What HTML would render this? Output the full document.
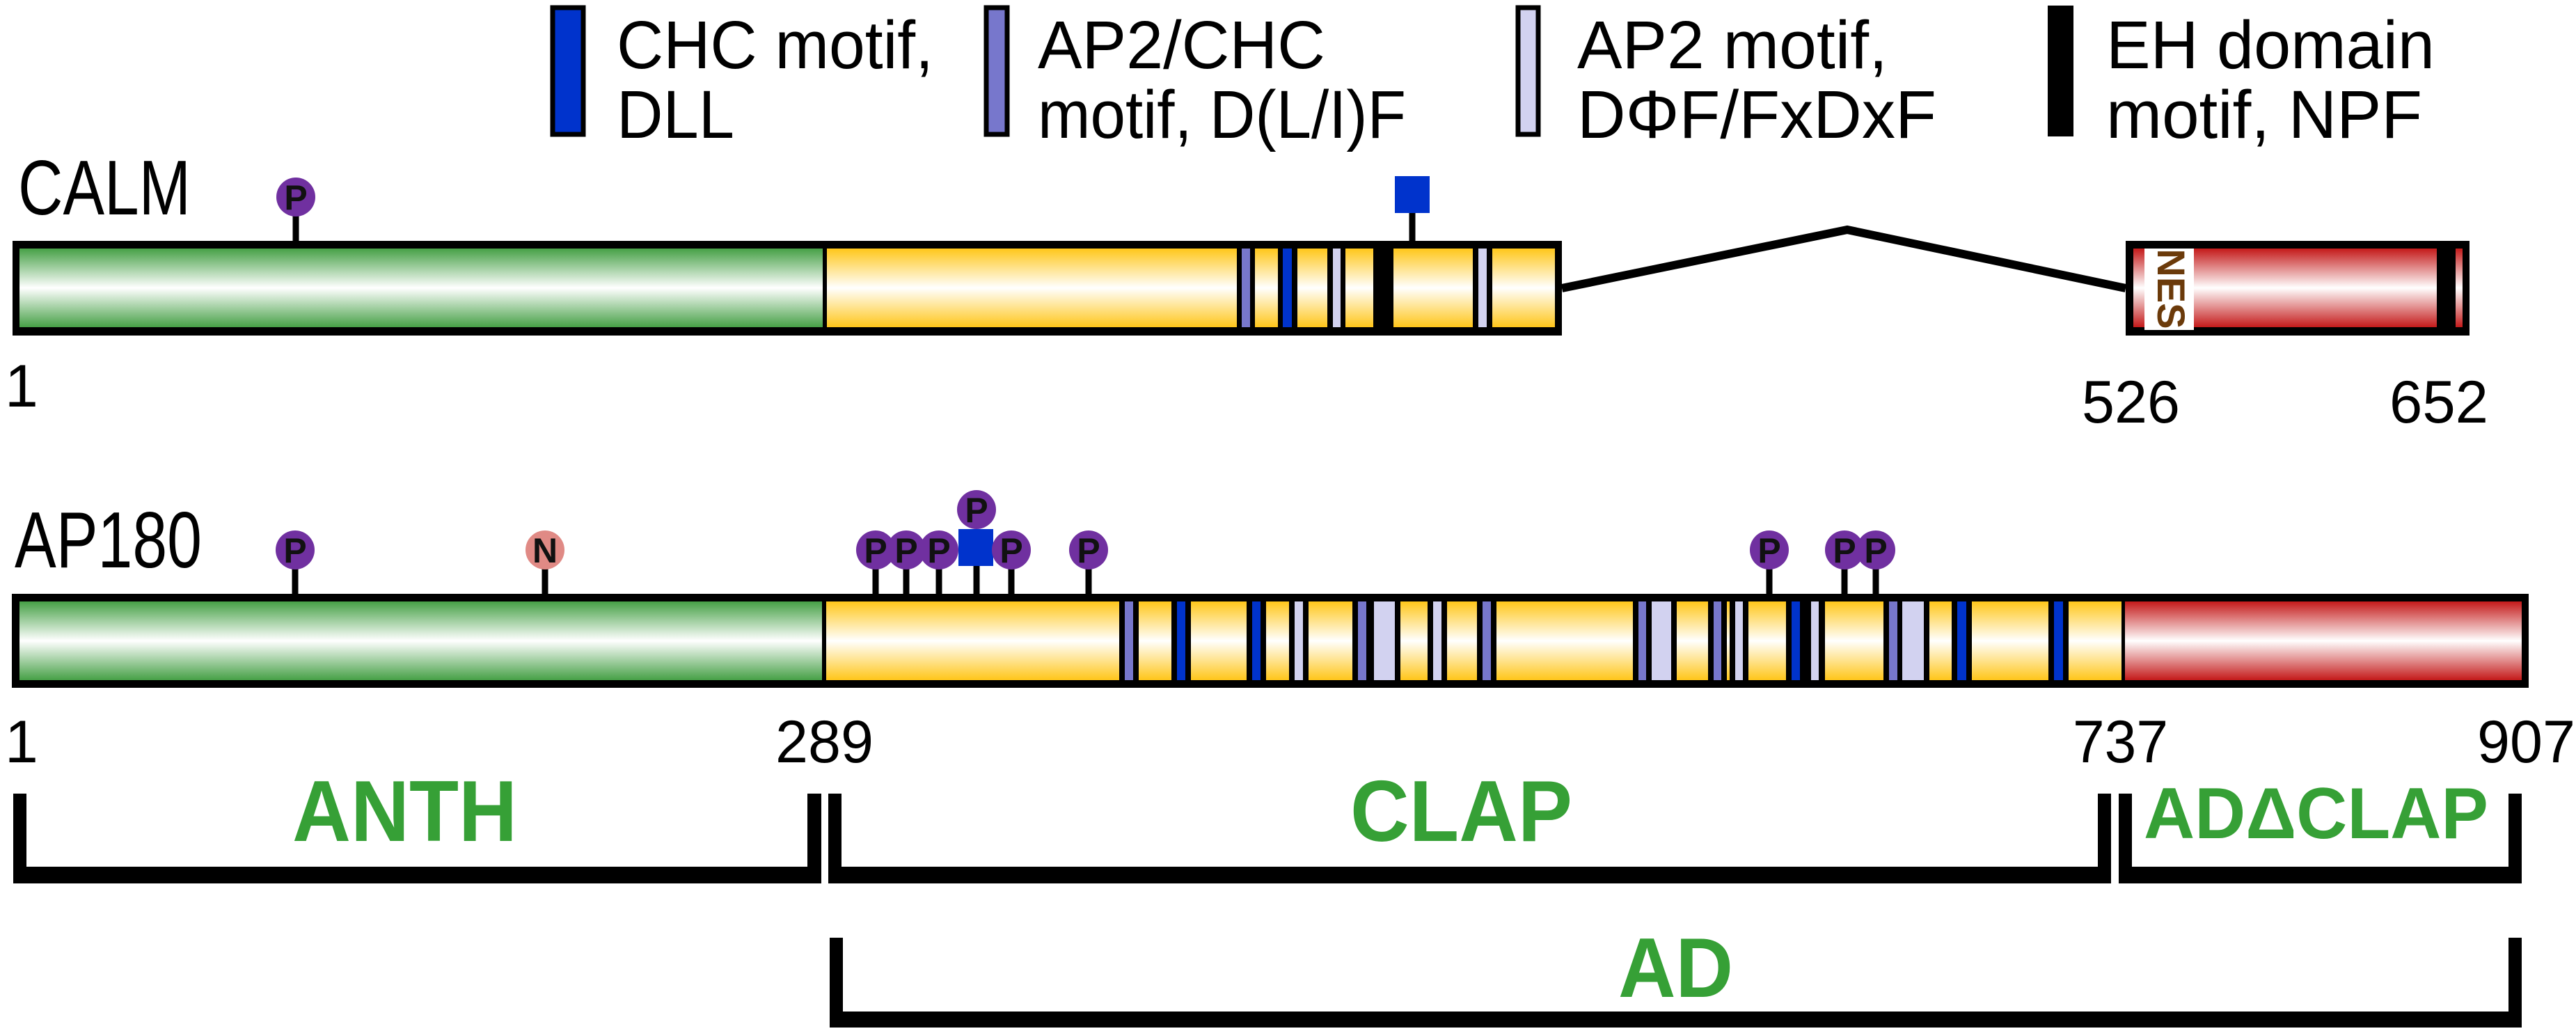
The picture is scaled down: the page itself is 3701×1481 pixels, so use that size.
<!DOCTYPE html>
<html><head><meta charset="utf-8"><style>html,body{margin:0;padding:0;background:#fff}svg{display:block}</style></head>
<body>
<svg xmlns="http://www.w3.org/2000/svg" width="3701" height="1481" viewBox="0 0 3701 1481" font-family="Liberation Sans, Arial, sans-serif">
<defs>
<linearGradient id="g" x1="0" y1="0" x2="0" y2="1"><stop offset="0" stop-color="#46a046"/><stop offset="0.5" stop-color="#ffffff"/><stop offset="1" stop-color="#46a046"/></linearGradient>
<linearGradient id="y" x1="0" y1="0" x2="0" y2="1"><stop offset="0" stop-color="#ffc61a"/><stop offset="0.5" stop-color="#ffffff"/><stop offset="1" stop-color="#ffc61a"/></linearGradient>
<linearGradient id="r" x1="0" y1="0" x2="0" y2="1"><stop offset="0" stop-color="#c41a1a"/><stop offset="0.5" stop-color="#ffffff"/><stop offset="1" stop-color="#c41a1a"/></linearGradient>
</defs>

<!-- Legend -->
<rect x="794" y="11" width="44" height="182" fill="#0033cc" stroke="#000" stroke-width="7"/>
<text x="886" y="98" font-size="97" textLength="455" lengthAdjust="spacingAndGlyphs">CHC motif,</text>
<text x="886" y="198" font-size="97" textLength="169" lengthAdjust="spacingAndGlyphs">DLL</text>
<rect x="1417" y="11" width="30" height="182" fill="#7777cc" stroke="#000" stroke-width="7"/>
<text x="1491" y="98" font-size="97" textLength="413" lengthAdjust="spacingAndGlyphs">AP2/CHC</text>
<text x="1491" y="198" font-size="97" textLength="529" lengthAdjust="spacingAndGlyphs">motif, D(L/I)F</text>
<rect x="2181" y="11" width="29" height="182" fill="#d2d2f0" stroke="#000" stroke-width="7"/>
<text x="2266" y="98" font-size="97" textLength="446" lengthAdjust="spacingAndGlyphs">AP2 motif,</text>
<text x="2266" y="198" font-size="97" textLength="516" lengthAdjust="spacingAndGlyphs">DΦF/FxDxF</text>
<rect x="2942" y="8" width="37" height="188" fill="#000"/>
<text x="3026" y="98" font-size="97" textLength="472" lengthAdjust="spacingAndGlyphs">EH domain</text>
<text x="3026" y="198" font-size="97" textLength="454" lengthAdjust="spacingAndGlyphs">motif, NPF</text>

<!-- CALM -->
<text x="26" y="308" font-size="111" textLength="248" lengthAdjust="spacingAndGlyphs">CALM</text>
<polyline points="2244,414 2654,330 3054,414" fill="none" stroke="#000" stroke-width="12"/>
<rect x="18" y="346" width="2226" height="136" fill="#000"/>
<rect x="28" y="357" width="1154" height="113" fill="url(#g)"/>
<rect x="1188" y="357" width="1046" height="113" fill="url(#y)"/>
<g>
<rect x="1777" y="357" width="26" height="113" fill="#000"/><rect x="1784" y="357" width="12" height="113" fill="#7777cc"/>
<rect x="1836" y="357" width="28" height="113" fill="#000"/><rect x="1843" y="357" width="13" height="113" fill="#0033cc"/>
<rect x="1907" y="357" width="26" height="113" fill="#000"/><rect x="1915" y="357" width="11" height="113" fill="#d2d2f0"/>
<rect x="1973" y="357" width="29" height="113" fill="#000"/>
<rect x="2116" y="357" width="28" height="113" fill="#000"/><rect x="2124" y="357" width="12" height="113" fill="#d2d2f0"/>
</g>
<rect x="3054" y="346" width="494" height="136" fill="#000"/>
<rect x="3065" y="357" width="436" height="113" fill="url(#r)"/>
<rect x="3528" y="357" width="10" height="113" fill="url(#r)"/>
<rect x="3081" y="357" width="71" height="117" fill="#fff"/>
<text transform="translate(3100,415) rotate(90)" font-size="56" font-weight="bold" fill="#6b3a0a" text-anchor="middle">NES</text>
<!-- CALM markers -->
<line x1="425" y1="300" x2="425" y2="346" stroke="#000" stroke-width="9"/>
<circle cx="425" cy="283" r="28" fill="#7030a0"/>
<text x="425" y="301" font-size="50" font-weight="bold" text-anchor="middle" fill="#111">P</text>
<line x1="2029" y1="300" x2="2029" y2="346" stroke="#000" stroke-width="9"/>
<rect x="2004" y="253" width="50" height="53" fill="#0033cc"/>
<text x="7" y="584" font-size="86">1</text>
<text x="2991" y="607" font-size="86" textLength="141" lengthAdjust="spacingAndGlyphs">526</text>
<text x="3433" y="607" font-size="86" textLength="142" lengthAdjust="spacingAndGlyphs">652</text>

<!-- AP180 -->
<text x="21" y="815" font-size="114" textLength="269" lengthAdjust="spacingAndGlyphs">AP180</text>
<rect x="17" y="853" width="3616" height="135" fill="#000"/>
<rect x="28" y="864" width="1153" height="113" fill="url(#g)"/>
<rect x="1187" y="864" width="1861" height="113" fill="url(#y)"/>
<rect x="3053" y="864" width="570" height="113" fill="url(#r)"/>
<g>
<rect x="1608" y="864" width="28" height="113" fill="#000"/><rect x="1616" y="864" width="12" height="113" fill="#7777cc"/>
<rect x="1683" y="864" width="28" height="113" fill="#000"/><rect x="1691" y="864" width="12" height="113" fill="#0033cc"/>
<rect x="1791" y="864" width="28" height="113" fill="#000"/><rect x="1799" y="864" width="12" height="113" fill="#0033cc"/>
<rect x="1852" y="864" width="28" height="113" fill="#000"/><rect x="1860" y="864" width="12" height="113" fill="#d2d2f0"/>
<rect x="1943" y="864" width="28" height="113" fill="#000"/><rect x="1951" y="864" width="12" height="113" fill="#7777cc"/>
<rect x="1966" y="864" width="46" height="113" fill="#000"/><rect x="1974" y="864" width="30" height="113" fill="#d2d2f0"/>
<rect x="2051" y="864" width="28" height="113" fill="#000"/><rect x="2059" y="864" width="12" height="113" fill="#d2d2f0"/>
<rect x="2122" y="864" width="28" height="113" fill="#000"/><rect x="2130" y="864" width="12" height="113" fill="#7777cc"/>
<rect x="2346" y="864" width="63" height="113" fill="#000"/><rect x="2354" y="864" width="11" height="113" fill="#7777cc"/><rect x="2373" y="864" width="28" height="113" fill="#d2d2f0"/>
<rect x="2454" y="864" width="27" height="113" fill="#000"/><rect x="2462" y="864" width="11" height="113" fill="#7777cc"/>
<rect x="2485" y="864" width="27" height="113" fill="#000"/><rect x="2493" y="864" width="11" height="113" fill="#d2d2f0"/>
<rect x="2566" y="864" width="56" height="113" fill="#000"/><rect x="2574" y="864" width="12" height="113" fill="#0033cc"/><rect x="2602" y="864" width="11" height="113" fill="#d2d2f0"/>
<rect x="2706" y="864" width="66" height="113" fill="#000"/><rect x="2714" y="864" width="12" height="113" fill="#7777cc"/><rect x="2733" y="864" width="31" height="113" fill="#d2d2f0"/>
<rect x="2804" y="864" width="29" height="113" fill="#000"/><rect x="2812" y="864" width="13" height="113" fill="#0033cc"/>
<rect x="2943" y="864" width="29" height="113" fill="#000"/><rect x="2951" y="864" width="13" height="113" fill="#0033cc"/>
</g>
<!-- AP180 markers -->
<g stroke="#000" stroke-width="9">
<line x1="424" y1="805" x2="424" y2="853"/><line x1="783" y1="805" x2="783" y2="853"/>
<line x1="1258" y1="805" x2="1258" y2="853"/><line x1="1302" y1="805" x2="1302" y2="853"/><line x1="1349" y1="805" x2="1349" y2="853"/>
<line x1="1403" y1="805" x2="1403" y2="853"/><line x1="1453" y1="805" x2="1453" y2="853"/><line x1="1564" y1="805" x2="1564" y2="853"/>
<line x1="2542" y1="805" x2="2542" y2="853"/><line x1="2650" y1="805" x2="2650" y2="853"/><line x1="2695" y1="805" x2="2695" y2="853"/>
</g>
<g font-size="50" font-weight="bold" text-anchor="middle" fill="#111">
<circle cx="424" cy="790" r="28" fill="#7030a0"/><text x="424" y="808">P</text>
<circle cx="783" cy="790" r="28" fill="#e08a85"/><text x="783" y="808">N</text>
<circle cx="1258" cy="790" r="28" fill="#7030a0"/><text x="1258" y="808">P</text>
<circle cx="1302" cy="790" r="28" fill="#7030a0"/><text x="1302" y="808">P</text>
<circle cx="1349" cy="790" r="28" fill="#7030a0"/><text x="1349" y="808">P</text>
<circle cx="1403" cy="732" r="28" fill="#7030a0"/><text x="1403" y="750">P</text>
<rect x="1377" y="760" width="50" height="53" fill="#0033cc"/>
<circle cx="1453" cy="790" r="28" fill="#7030a0"/><text x="1453" y="808">P</text>
<circle cx="1564" cy="790" r="28" fill="#7030a0"/><text x="1564" y="808">P</text>
<circle cx="2542" cy="790" r="28" fill="#7030a0"/><text x="2542" y="808">P</text>
<circle cx="2650" cy="790" r="28" fill="#7030a0"/><text x="2650" y="808">P</text>
<circle cx="2695" cy="790" r="28" fill="#7030a0"/><text x="2695" y="808">P</text>
</g>
<g font-size="86">
<text x="7" y="1095">1</text>
<text x="1114" y="1095" textLength="141" lengthAdjust="spacingAndGlyphs">289</text>
<text x="2978" y="1095" textLength="137" lengthAdjust="spacingAndGlyphs">737</text>
<text x="3559" y="1095" textLength="141" lengthAdjust="spacingAndGlyphs">907</text>
</g>

<!-- Brackets -->
<g fill="#000">
<rect x="19" y="1140" width="19" height="129"/><rect x="19" y="1245" width="1161" height="24"/><rect x="1160" y="1140" width="20" height="129"/>
<rect x="1190" y="1140" width="19" height="129"/><rect x="1190" y="1245" width="1843" height="24"/><rect x="3014" y="1140" width="19" height="129"/>
<rect x="3044" y="1140" width="19" height="129"/><rect x="3044" y="1245" width="579" height="24"/><rect x="3604" y="1140" width="19" height="129"/>
<rect x="1192" y="1347" width="19" height="129"/><rect x="1192" y="1453" width="2431" height="23"/><rect x="3604" y="1347" width="19" height="129"/>
</g>
<g fill="#36a036" font-weight="bold">
<text x="420" y="1208" font-size="124" textLength="323" lengthAdjust="spacingAndGlyphs">ANTH</text>
<text x="1940" y="1208" font-size="124" textLength="319" lengthAdjust="spacingAndGlyphs">CLAP</text>
<text x="3080" y="1204" font-size="104" textLength="495" lengthAdjust="spacingAndGlyphs">ADΔCLAP</text>
<text x="2325" y="1432" font-size="122" textLength="165" lengthAdjust="spacingAndGlyphs">AD</text>
</g>
</svg>
</body></html>
